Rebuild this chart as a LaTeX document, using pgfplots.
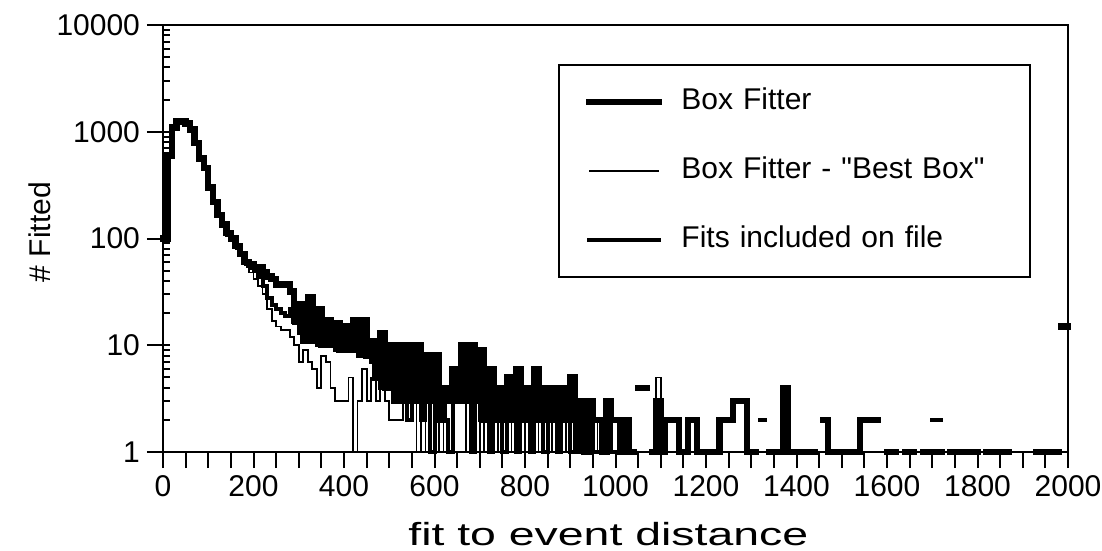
\documentclass[border=0pt]{standalone}
\usepackage{fontspec}
\setmainfont{Liberation Sans}[Ligatures=TeXOff]
\usepackage{pgfplots}
\pgfplotsset{compat=1.18}
\usetikzlibrary{calc}

\newcommand{\lbl}{\fontsize{15}{18}\selectfont}

\begin{document}
\begin{tikzpicture}
\begin{axis}[
    scale only axis,
    width=452.5pt, height=213.5pt,
    ymode=log,
    xmin=0, xmax=2000, ymin=1, ymax=10000,
    axis line style={line width=1pt},
    clip=false,
    unbounded coords=jump,
    tick align=outside,
    xtick pos=bottom, ytick pos=left,
    xtick={0,50,...,2000},
    xticklabels={0,,,,200,,,,400,,,,600,,,,800,,,,1000,,,,1200,,,,1400,,,,1600,,,,1800,,,,2000},
    ytick={1,10,100,1000,10000},
    yticklabels={1,10,100,1000,10000},
    major tick length=8pt,
    minor tick length=3.5pt,
    every tick/.append style={line width=1pt, black},
    every minor y tick/.append style={xshift=3.5pt},
    tick label style={font=\lbl},
    every axis x label/.style={at={(axis description cs:0.492,-0.219)}, anchor=base, font=\fontsize{16}{19}\selectfont},
    every axis y label/.style={at={(axis description cs:-0.136,0.515)}, rotate=90, anchor=center, font=\lbl},
    xlabel={\scalebox{1.45}[1]{fit to event distance}},
    ylabel={\# Fitted},
    legend image code/.code={\draw[#1] (0pt,0pt) -- (35pt,0pt);},
    legend cell align=left,
    legend style={at={(0.4365,0.9087)}, anchor=north west, draw=black, line width=1pt,
        font=\lbl, inner xsep=13.5pt, inner ysep=11.5pt, row sep=20.5pt, column sep=9.5pt,
        nodes={inner sep=0pt, text height=11pt, text depth=3pt},
        /tikz/column 2/.style={text width=161pt}},
]
% Box Fitter
\addplot[const plot, black, line width=3.2pt, line cap=rect] coordinates {
(0,100) (10,600) (20,1100) (30,1250) (40,1250) (50,1200) (60,1050) (70,780) (80,560) (90,460)
(100,300) (110,220) (120,165) (130,135) (140,112) (150,100) (160,85) (170,72) (180,60) (190,57)
(200,54) (210,54) (220,48) (230,44) (240,42) (250,37) (260,37) (270,37) (280,32) (290,17)
(300,24) (310,11) (320,28) (330,11) (340,22) (350,10) (360,17) (370,10) (380,16) (390,9)
(400,15) (410,9) (420,17) (430,9) (440,17) (450,8) (460,11) (470,5) (480,13) (490,4)
(500,10) (510,3) (520,10) (530,3) (540,10) (550,3) (560,10) (570,3) (580,8) (590,3)
(600,8) (610,2) (620,4) (630,3) (640,6) (650,3) (660,10) (670,3) (680,10) (690,3)
(700,9) (710,2) (720,6) (730,2) (740,4) (750,2) (760,5) (770,2) (780,6) (790,2)
(800,4) (810,2) (820,6) (830,2) (840,4) (850,2) (860,4) (870,2) (880,4) (890,2)
(900,5) (910,2) (920,3) (930,1) (940,3) (950,2) (960,2) (970,1) (980,3) (990,2)
(1000,2) (1010,1) (1020,2) (1030,1) (1040,1) (1040,nan)
(1050,4) (1060,4) (1070,4) (1070,nan)
(1080,1) (1090,3) (1100,1) (1110,2) (1120,2) (1130,2) (1140,1) (1150,1) (1160,2) (1170,2)
(1180,1) (1190,1) (1200,1) (1210,1) (1220,1) (1230,2) (1240,2) (1250,2) (1260,3) (1270,3)
(1280,3) (1290,1) (1300,1) (1310,1) (1310,nan)
(1340,1) (1350,1) (1360,1) (1370,4) (1380,1) (1390,1) (1400,1) (1410,1) (1420,1) (1430,1) (1440,1) (1440,nan)
(1460,2) (1470,1) (1480,1) (1490,1) (1500,1) (1510,1) (1520,1) (1530,1) (1540,2) (1550,2)
(1560,2) (1570,2) (1580,2) (1580,nan)
(1600,1) (1610,1) (1620,1) (1620,nan)
(1640,1) (1650,1) (1660,1) (1660,nan)
(1680,1) (1690,1) (1700,1) (1710,1) (1720,1) (1720,nan)
(1740,1) (1750,1) (1760,1) (1760,nan)
(1770,1) (1780,1) (1790,1) (1800,1) (1800,nan)
(1820,1) (1830,1) (1840,1) (1850,1) (1860,1) (1870,1) (1870,nan)
(1930,1) (1940,1) (1950,1) (1960,1) (1970,1) (1980,1) (1980,nan)
(1985,15) (2000,15)
};
\addlegendentry{Box Fitter}
% Box Fitter - "Best Box"
\addplot[const plot, black, line width=0.9pt] coordinates {
(0,100) (10,600) (20,1100) (30,1250) (40,1250) (50,1200) (60,1000) (70,760) (80,540) (90,440)
(100,290) (110,210) (120,160) (130,130) (140,105) (150,95) (160,80) (170,68) (180,56) (190,48)
(200,42) (210,36) (220,30) (230,22) (240,17) (250,15) (260,14) (270,14) (280,12) (290,10)
(300,7) (310,9) (320,7) (330,6) (340,4) (350,8) (360,7) (370,4) (380,3) (390,3)
(400,3) (410,5) (420,1) (430,3) (440,6) (450,3) (460,5) (470,3) (480,5) (490,3)
(500,2) (510,2) (520,2) (530,3) (540,2) (550,3) (560,1) (570,3) (580,1) (590,3)
(600,1) (610,2) (620,1) (630,1) (640,4) (650,4) (660,4) (670,1) (680,3) (690,1)
(700,2) (710,1) (720,2) (730,1) (740,3) (750,1) (760,1) (770,2) (780,1) (790,2)
(800,1) (810,1) (820,2) (830,1) (840,1) (850,2) (860,1) (870,1) (880,2) (890,1)
(900,1) (910,1) (920,2) (930,1) (940,1) (950,1) (960,2) (970,1) (980,1) (990,1)
(1000,1) (1010,1) (1020,1) (1030,1) (1040,1) (1050,1) (1060,1) (1070,1) (1080,1) (1090,5)
(1100,1) (1110,1)
};
\addlegendentry{Box Fitter - "Best Box"}
% Fits included on file
\addplot[const plot, black, line width=2pt, line cap=rect] coordinates {
(0,100) (10,600) (20,1100) (30,1250) (40,1250) (50,1200) (60,1050) (70,780) (80,560) (90,460)
(100,300) (110,220) (120,165) (130,135) (140,112) (150,100) (160,85) (170,72) (180,60) (190,57)
(200,50) (210,44) (220,36) (230,28) (240,24) (250,22) (260,20) (270,19) (280,22) (290,16)
(300,13) (310,12) (320,11) (330,12) (340,10) (350,11) (360,10) (370,10) (380,9) (390,10)
(400,9) (410,10) (420,9) (430,8) (440,9) (450,8) (460,7) (470,5) (480,4) (490,5)
(500,4) (510,3) (520,4) (530,3) (540,2) (550,3) (560,3) (570,2) (580,3) (590,1)
(600,3) (610,2) (620,2) (630,1) (640,3) (650,3) (660,4) (670,3) (680,1) (690,3)
(700,2) (710,2) (720,1) (730,2) (740,2) (750,1) (760,2) (770,2) (780,1) (790,2)
(800,2) (810,1) (820,2) (830,2) (840,1) (850,2) (860,2) (870,1) (880,2) (890,2)
(900,1) (910,2) (920,1) (930,1) (940,2) (950,1) (960,1) (970,1) (980,2) (990,1)
(1000,1) (1010,1) (1020,1) (1030,1) (1030,nan)
(1110,2) (1120,2) (1120,nan)
(1320,2) (1330,2) (1330,nan)
(1700,2) (1710,2) (1720,2)
};
\addlegendentry{Fits included on file}
\end{axis}
\pgfresetboundingbox
\path ($(current axis.south west)+(-81.5pt,-49pt)$) rectangle ($(current axis.north east)+(17pt,12.5pt)$);
\end{tikzpicture}
\end{document}
